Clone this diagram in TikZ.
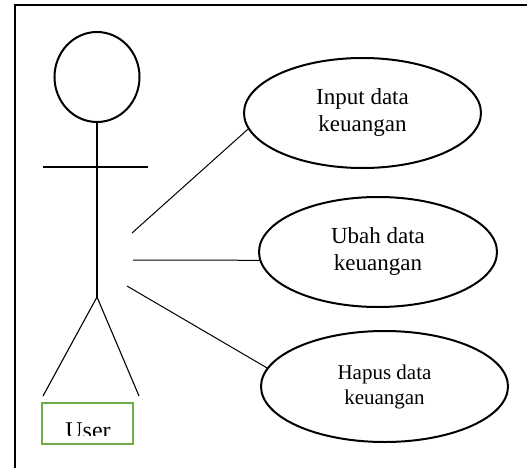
\documentclass[tikz,border=0pt]{standalone}
\usepackage{fontspec}
\setmainfont{Liberation Serif}
\usetikzlibrary{shapes.geometric}
\definecolor{boxgreen}{HTML}{70AD47}
\tikzset{
  usecase/.style={ellipse, draw=black, line width=2pt, inner sep=0pt, align=center, font=\fontsize{23}{27}\selectfont},
  limb/.style={draw=black, line width=1.1pt},
  assoc/.style={draw=black, line width=1pt},
}
\begin{document}
\begin{tikzpicture}[x=1pt,y=-1pt]
\useasboundingbox (0,0) rectangle (527,468);
% frame (top and left edges visible)
\draw[line width=2.2pt] (527,5) -- (15,5) -- (15,468);
% actor
\node[ellipse, draw=black, line width=2pt, minimum width=85pt, minimum height=90pt, inner sep=0pt] (head) at (97,77) {};
\coordinate (hip) at (97,297);
\coordinate (armL) at (43,167);
\coordinate (armR) at (148,167);
\coordinate (footL) at (43,396);
\coordinate (footR) at (139,396);
\draw[limb] (head.south) -- (hip);
\draw[limb] (armL) -- (armR);
\draw[limb] (footL) -- (hip) -- (footR);
% user label box
\node[draw=boxgreen, line width=2.4pt, minimum width=91pt, minimum height=41pt, inner sep=0pt] (userbox) at (87.5,423.5) {};
\begin{scope}
\clip (43,405) rectangle (132,435);
\node[font=\fontsize{24}{24}\selectfont, anchor=base] (usertext) at (88,438) {User};
\end{scope}
% use cases
\node[usecase, minimum width=237pt, minimum height=110pt] (e1) at (362.5,113) {Input data\\keuangan};
\node[usecase, minimum width=238pt, minimum height=110pt] (e2) at (378,252) {Ubah data\\keuangan};
\node[usecase, minimum width=247pt, minimum height=111pt, font=\fontsize{21}{25}\selectfont] (e3) at (384.5,386.5) {Hapus data\\keuangan};
% associations
\coordinate (a1) at (132,233);
\coordinate (a2) at (133,260);
\coordinate (a3) at (127,286);
\draw[assoc] (a1) -- (e1.188);
\draw[assoc] (a2) -- (e2.184);
\draw[assoc] (a3) -- (e3.171);
\end{tikzpicture}
\end{document}
